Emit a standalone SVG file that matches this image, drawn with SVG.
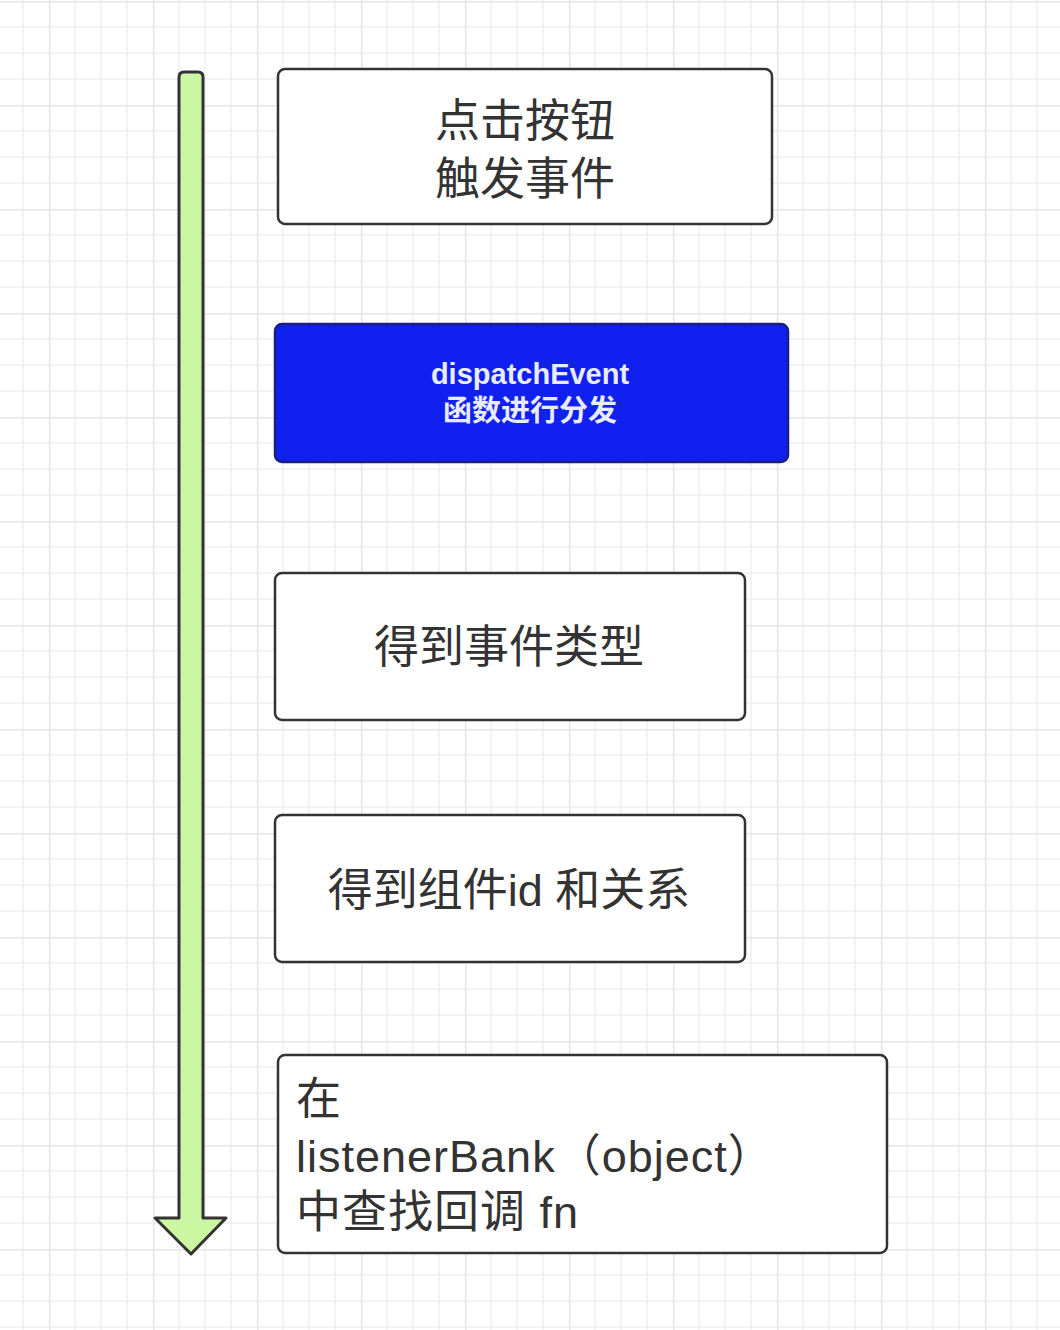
<svg xmlns="http://www.w3.org/2000/svg" width="1060" height="1330" viewBox="0 0 1060 1330">
<defs>
<pattern id="grid" x="49" y="1" width="104" height="104" patternUnits="userSpaceOnUse">
<path d="M26,0V104M52,0V104M78,0V104M0,26H104M0,52H104M0,78H104" stroke="#efefef" stroke-width="1.5" fill="none"/>
<path d="M0.75,0V104M0,0.75H104" stroke="#e5e5e5" stroke-width="1.5" fill="none"/>
</pattern>
<style>
.box{fill:#ffffff;stroke:#333333;stroke-width:2.5}
.blue{fill:#1020ee;stroke:#1a1f80;stroke-width:2.5}
.t{font-family:"Liberation Sans","Noto Sans CJK SC",sans-serif;fill:#333333}
.big{font-size:45px;text-anchor:middle}
.wt{font-family:"Liberation Sans","Noto Sans CJK SC",sans-serif;fill:#e8ecff;text-anchor:middle;font-weight:bold}
.left{font-size:45px}
</style>
</defs>
<rect width="1060" height="1330" fill="#ffffff"/>
<rect width="1060" height="1330" fill="url(#grid)"/>
<g id="connectors">
<path d="M179,77 Q179,72 184,72 L198,72 Q203,72 203,77 L203,1218 L226,1218 L191,1254 L155,1218 L179,1218 Z" fill="#ccf7a2" stroke="#333333" stroke-width="3" stroke-linejoin="round"/>
</g>
<g id="node1">
<rect class="box" x="278" y="69" width="494" height="155" rx="7"/>
<text class="t big" x="525" y="137">点击按钮</text>
<text class="t big" x="525" y="195">触发事件</text>
</g>
<g id="node2">
<rect class="blue" x="275" y="324" width="513" height="138" rx="7"/>
<text class="wt" x="530" y="384" font-size="29">dispatchEvent</text>
<text class="wt" x="530" y="421" font-size="29">函数进行分发</text>
</g>
<g id="node3">
<rect class="box" x="275" y="573" width="470" height="147" rx="7"/>
<text class="t big" x="509" y="663">得到事件类型</text>
</g>
<g id="node4">
<rect class="box" x="275" y="815" width="470" height="147" rx="7"/>
<text class="t big" x="509" y="906">得到组件id 和关系</text>
</g>
<g id="node5">
<rect class="box" x="278" y="1055" width="609" height="198" rx="7"/>
<text class="t left" x="296" y="1115">在</text>
<text class="t left" x="296" y="1172" letter-spacing="1">listenerBank（object）</text>
<text class="t left" x="296" y="1228" letter-spacing="1">中查找回调 fn</text>
</g>
</svg>
